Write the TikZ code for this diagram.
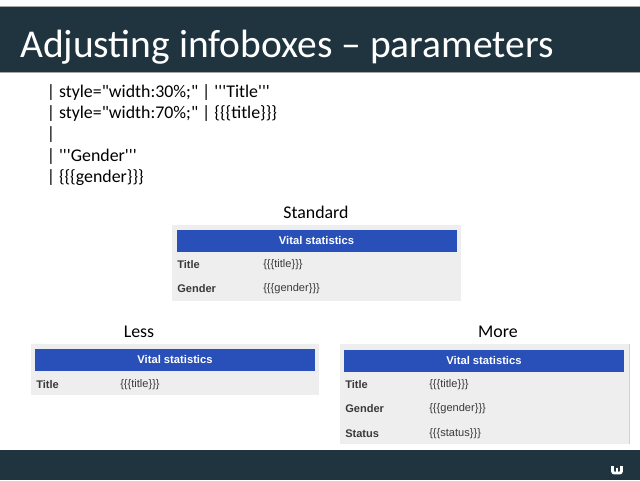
\documentclass[tikz,border=0pt]{standalone}
\usepackage{fontspec}
\newfontfamily\carl{Carlito}
\newfontfamily\boxfont{Liberation Sans}
\definecolor{band}{HTML}{1F343F}
\definecolor{panel}{HTML}{EEEEEE}
\definecolor{bluehead}{HTML}{2950B8}
\definecolor{rowtext}{HTML}{3A3A3A}
\tikzset{
  x=0.75pt,y=-0.75pt,
  titletext/.style={anchor=west,inner sep=0pt,text=white,font=\carl\fontsize{29.6pt}{32pt}\selectfont},
  codeline/.style={anchor=west,inner sep=0pt,text=black,font=\carl\fontsize{13.4pt}{16pt}\selectfont},
  caption/.style={inner sep=0pt,text=black,font=\carl\fontsize{13.4pt}{16pt}\selectfont},
  headtext/.style={inner sep=0pt,text=white,font=\boxfont\bfseries\fontsize{8.4pt}{10pt}\selectfont},
  rowkey/.style={anchor=west,inner sep=0pt,text=rowtext,font=\boxfont\bfseries\fontsize{8.3pt}{10pt}\selectfont},
  rowval/.style={anchor=west,inner sep=0pt,text=rowtext,font=\boxfont\fontsize{8.3pt}{10pt}\selectfont},
}
\begin{document}
\begin{tikzpicture}
\useasboundingbox (0,0) rectangle (640,480);
\fill[white] (0,0) rectangle (640,480);
% bands
\fill[band] (0,7) rectangle (640,72);
\fill[band] (0,450) rectangle (640,480);
\fill[black!35] (0,6) rectangle (640,7);
\fill[black!35] (0,72) rectangle (640,72.6);
\node[titletext] (title) at (20,47) {Adjusting infoboxes – parameters};
% logo
\draw[white,line width=2.2pt,line cap=butt,line join=round,rounded corners=1.5pt]
  (612.5,466) -- (612.5,473) -- (621.5,473) -- (621.5,466);
\draw[white,line width=2.2pt,line cap=butt]
  (617,467.5) -- (617,473);
% code
\node[codeline] (c1) at (46.5,92.5) {| style="width:30\%;" | '{}'{}'Title'{}'{}'};
\node[codeline] (c2) at (46.5,114) {| style="width:70\%;" | \{\{\{title\}\}\}};
\node[codeline] (c3) at (46.5,135) {|};
\node[codeline] (c4) at (46.5,156.5) {| '{}'{}'Gender'{}'{}'};
\node[codeline] (c5) at (46.5,178) {| \{\{\{gender\}\}\}};
% captions
\node[caption] (capstd) at (316,212.5) {Standard};
\node[caption] (capless) at (139,331.5) {Less};
\node[caption] (capmore) at (498,331.5) {More};
% standard
\fill[panel] (172,225) rectangle (461,301);
\fill[bluehead] (177,230) rectangle (457,252);
\node[headtext] (h1) at (316.5,240.5) {Vital statistics};
\node[rowkey] (s1k) at (177,264.5) {Title};
\node[rowval] (s1v) at (263,264.5) {\{\{\{title\}\}\}};
\node[rowkey] (s2k) at (177,288.5) {Gender};
\node[rowval] (s2v) at (263,288.5) {\{\{\{gender\}\}\}};
% less
\fill[panel] (31,344) rectangle (319,395);
\fill[bluehead] (35,349) rectangle (315,371);
\node[headtext] (h2) at (175,359.5) {Vital statistics};
\node[rowkey] (l1k) at (36,384.5) {Title};
\node[rowval] (l1v) at (120,384.5) {\{\{\{title\}\}\}};
% more
\fill[panel] (340,344) rectangle (630,443.5);
\fill[black!18] (628.5,344) rectangle (630,443.5);
\fill[bluehead] (344,350) rectangle (624,372);
\node[headtext] (h3) at (484,360.5) {Vital statistics};
\node[rowkey] (m1k) at (345,385) {Title};
\node[rowval] (m1v) at (429,385) {\{\{\{title\}\}\}};
\node[rowkey] (m2k) at (345,409) {Gender};
\node[rowval] (m2v) at (429,409) {\{\{\{gender\}\}\}};
\node[rowkey] (m3k) at (345,433.5) {Status};
\node[rowval] (m3v) at (429,433.5) {\{\{\{status\}\}\}};
\end{tikzpicture}
\end{document}
